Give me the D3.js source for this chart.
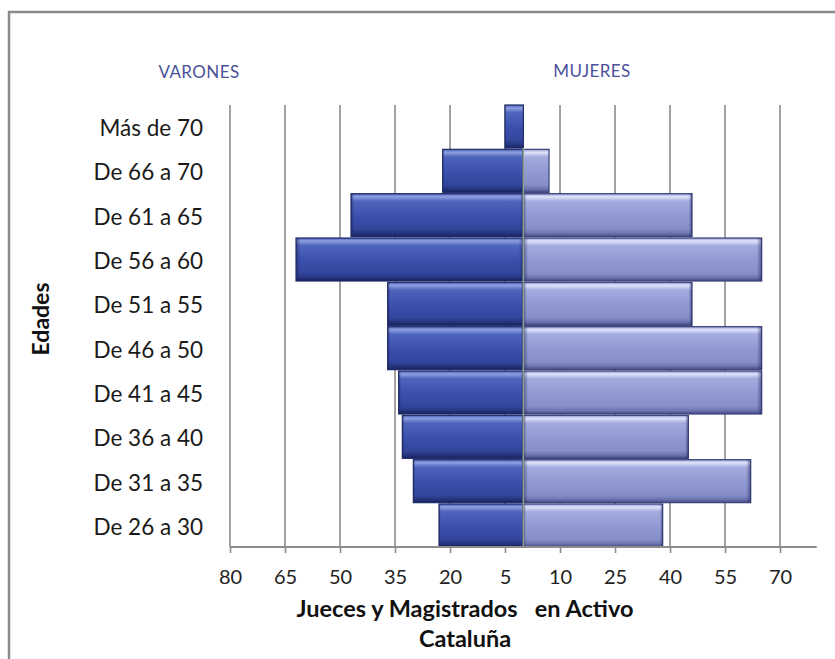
<!DOCTYPE html>
<html>
<head>
<meta charset="utf-8">
<script src="https://cdn.jsdelivr.net/npm/d3@7"></script>
<style>
  html, body { margin: 0; padding: 0; background: #fff; }
  svg { display: block; }
  text { font-family: Lato, "Open Sans", sans-serif; }
</style>
</head>
<body>
<svg id="chart" width="835" height="659"></svg>
<script>
// ---- data ----
const categories = ["Más de 70", "De 66 a 70", "De 61 a 65", "De 56 a 60", "De 51 a 55",
                    "De 46 a 50", "De 41 a 45", "De 36 a 40", "De 31 a 35", "De 26 a 30"];
const varones = [5, 22, 47, 62, 37, 37, 34, 33, 30, 23];
const mujeres = [0, 7, 46, 65, 46, 65, 65, 45, 62, 38];
const tickValues = [-80, -65, -50, -35, -20, -5, 10, 25, 40, 55, 70];
const tickLabels = ["80", "65", "50", "35", "20", "5", "10", "25", "40", "55", "70"];
const seriesLabels = ["VARONES", "MUJERES"];
const yTitle = "Edades";
const xTitle = ["Jueces y Magistrados   en Activo", "Cataluña"];

// ---- layout ----
const svg = d3.select("#chart");
const plot = { left: 230, right: 816.7, top: 105, bottom: 547 };

const x = d3.scaleLinear().domain([-80, 80]).range([plot.left, plot.right]);
const y = d3.scaleBand().domain(categories).range([plot.top, plot.bottom]).paddingInner(0.03).paddingOuter(0.0);

// gradients
const defs = svg.append("defs");
function grad(id, stops) {
  const g = defs.append("linearGradient").attr("id", id).attr("x1", 0).attr("y1", 0).attr("x2", 0).attr("y2", 1);
  stops.forEach(s => g.append("stop").attr("offset", s[0]).attr("stop-color", s[1]));
}
grad("gMen", [[0, "#4b5fb6"], [0.07, "#8ea0e0"], [0.18, "#4f64bc"], [0.55, "#3a4fab"], [0.82, "#33469c"], [0.92, "#26357f"], [1, "#16205a"]]);
grad("gWom", [[0, "#8e97d2"], [0.07, "#e0e4fa"], [0.18, "#a3abdf"], [0.55, "#8f98d0"], [0.82, "#878fc6"], [0.92, "#6d75b0"], [1, "#434a85"]]);
function hgrad(id, edge) {
  const g = defs.append("linearGradient").attr("id", id).attr("x1", 0).attr("y1", 0).attr("x2", 1).attr("y2", 0);
  g.append("stop").attr("offset", 0).attr("stop-color", edge).attr("stop-opacity", 0.55);
  g.append("stop").attr("offset", 0.02).attr("stop-color", edge).attr("stop-opacity", 0);
  g.append("stop").attr("offset", 0.98).attr("stop-color", edge).attr("stop-opacity", 0);
  g.append("stop").attr("offset", 1).attr("stop-color", edge).attr("stop-opacity", 0.55);
}
hgrad("hEdge", "#1a2560");

// frame
svg.append("rect").attr("x", 9).attr("y", 12).attr("width", 840).attr("height", 660)
  .attr("fill", "#fff").attr("stroke", "#8a8a8a").attr("stroke-width", 2.5);

// grid lines
svg.append("g").selectAll("line").data(tickValues).join("line")
  .attr("x1", d => x(d)).attr("x2", d => x(d))
  .attr("y1", plot.top).attr("y2", plot.bottom)
  .attr("stroke", "#8c8c8c").attr("stroke-width", 1.6);

// bars
const bars = svg.append("g");
function drawBars(vals, sign, fill, stroke) {
  const g = bars.append("g");
  const data = categories.map((c, i) => ({ c, v: vals[i] })).filter(d => d.v > 0);
  g.selectAll("rect.main").data(data).join("rect").attr("class", "main")
    .attr("x", d => sign < 0 ? x(-d.v) : x(0))
    .attr("width", d => Math.abs(x(d.v) - x(0)))
    .attr("y", d => y(d.c)).attr("height", y.bandwidth())
    .attr("fill", fill).attr("stroke", stroke).attr("stroke-width", 1.2);
  g.selectAll("rect.edge").data(data).join("rect").attr("class", "edge")
    .attr("x", d => sign < 0 ? x(-d.v) : x(0))
    .attr("width", d => Math.abs(x(d.v) - x(0)))
    .attr("y", d => y(d.c)).attr("height", y.bandwidth())
    .attr("fill", "url(#hEdge)");
}
drawBars(varones, -1, "url(#gMen)", "#1f2b6a");
drawBars(mujeres, 1, "url(#gWom)", "#3b4278");

// zero line
svg.append("line").attr("x1", x(0)).attr("x2", x(0)).attr("y1", plot.top + y.bandwidth()).attr("y2", plot.bottom)
  .attr("stroke", "#8fa08a").attr("stroke-width", 1.5);

// x axis
const xAxis = d3.axisBottom(x).tickValues(tickValues).tickFormat((d, i) => tickLabels[i]).tickSize(6).tickPadding(17);
const ax = svg.append("g").attr("transform", `translate(0,${plot.bottom})`).call(xAxis);
ax.select(".domain").attr("stroke", "#8c8c8c").attr("stroke-width", 2).attr("d", `M${plot.left},0H${plot.right}`);
ax.selectAll(".tick line").attr("stroke", "#8c8c8c").attr("stroke-width", 1.6);
ax.selectAll(".tick text").attr("font-size", 20).attr("fill", "#222").attr("font-family", "Lato, sans-serif");

// y labels
svg.append("g").selectAll("text").data(categories).join("text")
  .attr("x", 203).attr("y", d => y(d) + y.bandwidth() / 2)
  .attr("dy", "0.42em").attr("text-anchor", "end")
  .attr("font-size", 22.5).attr("fill", "#1a1a1a").text(d => d);

// series labels
svg.append("text").attr("x", 199).attr("y", 78).attr("text-anchor", "middle")
  .attr("font-size", 17).attr("letter-spacing", 0.4).attr("fill", "#4a519a").text(seriesLabels[0]);
svg.append("text").attr("x", 592).attr("y", 77).attr("text-anchor", "middle")
  .attr("font-size", 17).attr("letter-spacing", 0.4).attr("fill", "#4a519a").text(seriesLabels[1]);

// y title
svg.append("text").attr("transform", "translate(49,319) rotate(-90)").attr("text-anchor", "middle")
  .attr("font-size", 23).attr("font-weight", "bold").attr("fill", "#111").text(yTitle);

// x title
svg.append("text").attr("x", 465).attr("y", 617).attr("text-anchor", "middle")
  .style("white-space", "pre")
  .attr("font-size", 23.5).attr("font-weight", "bold").attr("fill", "#111").text(xTitle[0]);
svg.append("text").attr("x", 465).attr("y", 647).attr("text-anchor", "middle")
  .attr("font-size", 23.5).attr("font-weight", "bold").attr("fill", "#111").text(xTitle[1]);
</script>
</body>
</html>
